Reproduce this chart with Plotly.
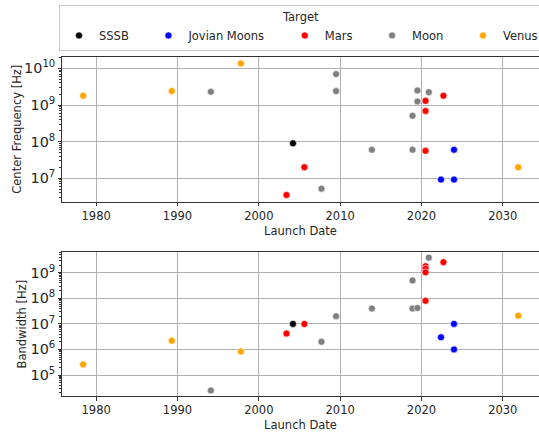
import plotly.graph_objects as go

targets = ["SSSB", "Jovian Moons", "Mars", "Moon", "Venus"]
colors = {"SSSB": "#000000", "Jovian Moons": "#0000ff", "Mars": "#ff0000",
          "Moon": "#808080", "Venus": "#ffa500"}

# Center frequency (top panel)
cf_sssb_x = [2004.2]
cf_sssb_y = [9e7]
cf_jov_x = [2022.4, 2024.0, 2024.0]
cf_jov_y = [9.2e6, 9.2e6, 6e7]
cf_mars_x = [2003.4, 2005.6, 2020.5, 2020.5, 2020.5, 2022.7]
cf_mars_y = [3.5e6, 2e7, 1.3e9, 6.9e8, 5.6e7, 1.8e9]
cf_moon_x = [1994.1, 2007.7, 2009.5, 2009.5, 2013.9, 2018.9, 2018.9, 2019.5, 2019.5, 2020.9]
cf_moon_y = [2.3e9, 5.2e6, 7e9, 2.4e9, 6e7, 6e7, 5.1e8, 2.5e9, 1.25e9, 2.25e9]
cf_venus_x = [1978.4, 1989.3, 1997.8, 2031.9]
cf_venus_y = [1.8e9, 2.4e9, 1.37e10, 2e7]

# Bandwidth (bottom panel)
bw_sssb_x = [2004.2]
bw_sssb_y = [1e7]
bw_jov_x = [2022.4, 2024.0, 2024.0]
bw_jov_y = [3e6, 1e7, 1e6]
bw_mars_x = [2003.4, 2005.6, 2020.5, 2020.5, 2020.5, 2020.5, 2022.7]
bw_mars_y = [4.2e6, 1e7, 1.8e9, 1.43e9, 1.04e9, 8e7, 2.6e9]
bw_moon_x = [1994.1, 2007.7, 2009.5, 2013.9, 2018.9, 2018.9, 2019.5, 2020.9]
bw_moon_y = [2.5e4, 2e6, 2e7, 4e7, 5e8, 4e7, 4.2e7, 3.9e9]
bw_venus_x = [1978.4, 1989.3, 1997.8, 2031.9]
bw_venus_y = [2.6e5, 2.2e6, 8.3e5, 2.1e7]

cf = {"SSSB": (cf_sssb_x, cf_sssb_y), "Jovian Moons": (cf_jov_x, cf_jov_y),
      "Mars": (cf_mars_x, cf_mars_y), "Moon": (cf_moon_x, cf_moon_y),
      "Venus": (cf_venus_x, cf_venus_y)}
bw = {"SSSB": (bw_sssb_x, bw_sssb_y), "Jovian Moons": (bw_jov_x, bw_jov_y),
      "Mars": (bw_mars_x, bw_mars_y), "Moon": (bw_moon_x, bw_moon_y),
      "Venus": (bw_venus_x, bw_venus_y)}

FONT = "DejaVu Sans"
TXT = "#262626"
PAD = "\u00a0\u00a0\u00a0\u00a0"
fig = go.Figure()
for t in targets:
    mk = dict(color=colors[t], size=7, line=dict(color="white", width=0.6))
    fig.add_trace(go.Scatter(x=cf[t][0], y=cf[t][1], mode="markers",
                             name=t + (PAD if t != "Venus" else ""),
                             legendgroup=t, marker=mk, xaxis="x", yaxis="y"))
    fig.add_trace(go.Scatter(x=bw[t][0], y=bw[t][1], mode="markers", name=t,
                             legendgroup=t, marker=mk, xaxis="x2", yaxis="y2",
                             showlegend=False))

W, H = 539, 437
xdom = [62 / W, 1.0]
ax_common = dict(showline=True, mirror=True, linecolor="#333", linewidth=1,
                 gridcolor="#b0b0b0", gridwidth=0.8, zeroline=False,
                 ticks="outside", ticklen=3.5, tickcolor="#333",
                 tickfont=dict(family=FONT, size=11.5, color=TXT), automargin=False)
xcommon = dict(ax_common, range=[1975.8, 2034.45], tickvals=[1980, 1990, 2000, 2010, 2020, 2030],
               title=dict(text="Launch Date", font=dict(family=FONT, size=11.5, color=TXT), standoff=4))
ycommon = dict(ax_common, type="log", dtick=1, exponentformat="power",
               minor=dict(ticks="outside", ticklen=2, tickcolor="#333", showgrid=False))

fig.update_layout(
    width=W, height=H,
    margin=dict(l=0, r=0, t=0, b=0, autoexpand=False),
    paper_bgcolor="white", plot_bgcolor="white",
    xaxis=dict(xcommon, domain=xdom, anchor="y"),
    yaxis=dict(ycommon, domain=[(H - 201.7) / H, (H - 56.7) / H], anchor="x",
               range=[6.36, 10.32],
               title=dict(text="Center Frequency [Hz]", font=dict(family=FONT, size=11.5, color=TXT), standoff=0)),
    xaxis2=dict(xcommon, domain=xdom, anchor="y2"),
    yaxis2=dict(ycommon, domain=[(H - 396) / H, (H - 252.3) / H], anchor="x2",
                range=[4.18, 9.8],
                title=dict(text="Bandwidth [Hz]", font=dict(family=FONT, size=11.5, color=TXT), standoff=1)),
    legend=dict(orientation="h", x=59 / W, y=1 - 5 / H, xanchor="left", yanchor="top",
                title=dict(text="Target", side="top center", font=dict(family=FONT, size=11.5, color=TXT)),
                font=dict(family=FONT, size=11.5, color=TXT),
                bordercolor="#cccccc", borderwidth=1, bgcolor="white",
                itemwidth=30),
    font=dict(family=FONT, color=TXT),
)
fig.write_html("out.html", config={"displayModeBar": False},
               post_script="document.body.style.margin='0';")
